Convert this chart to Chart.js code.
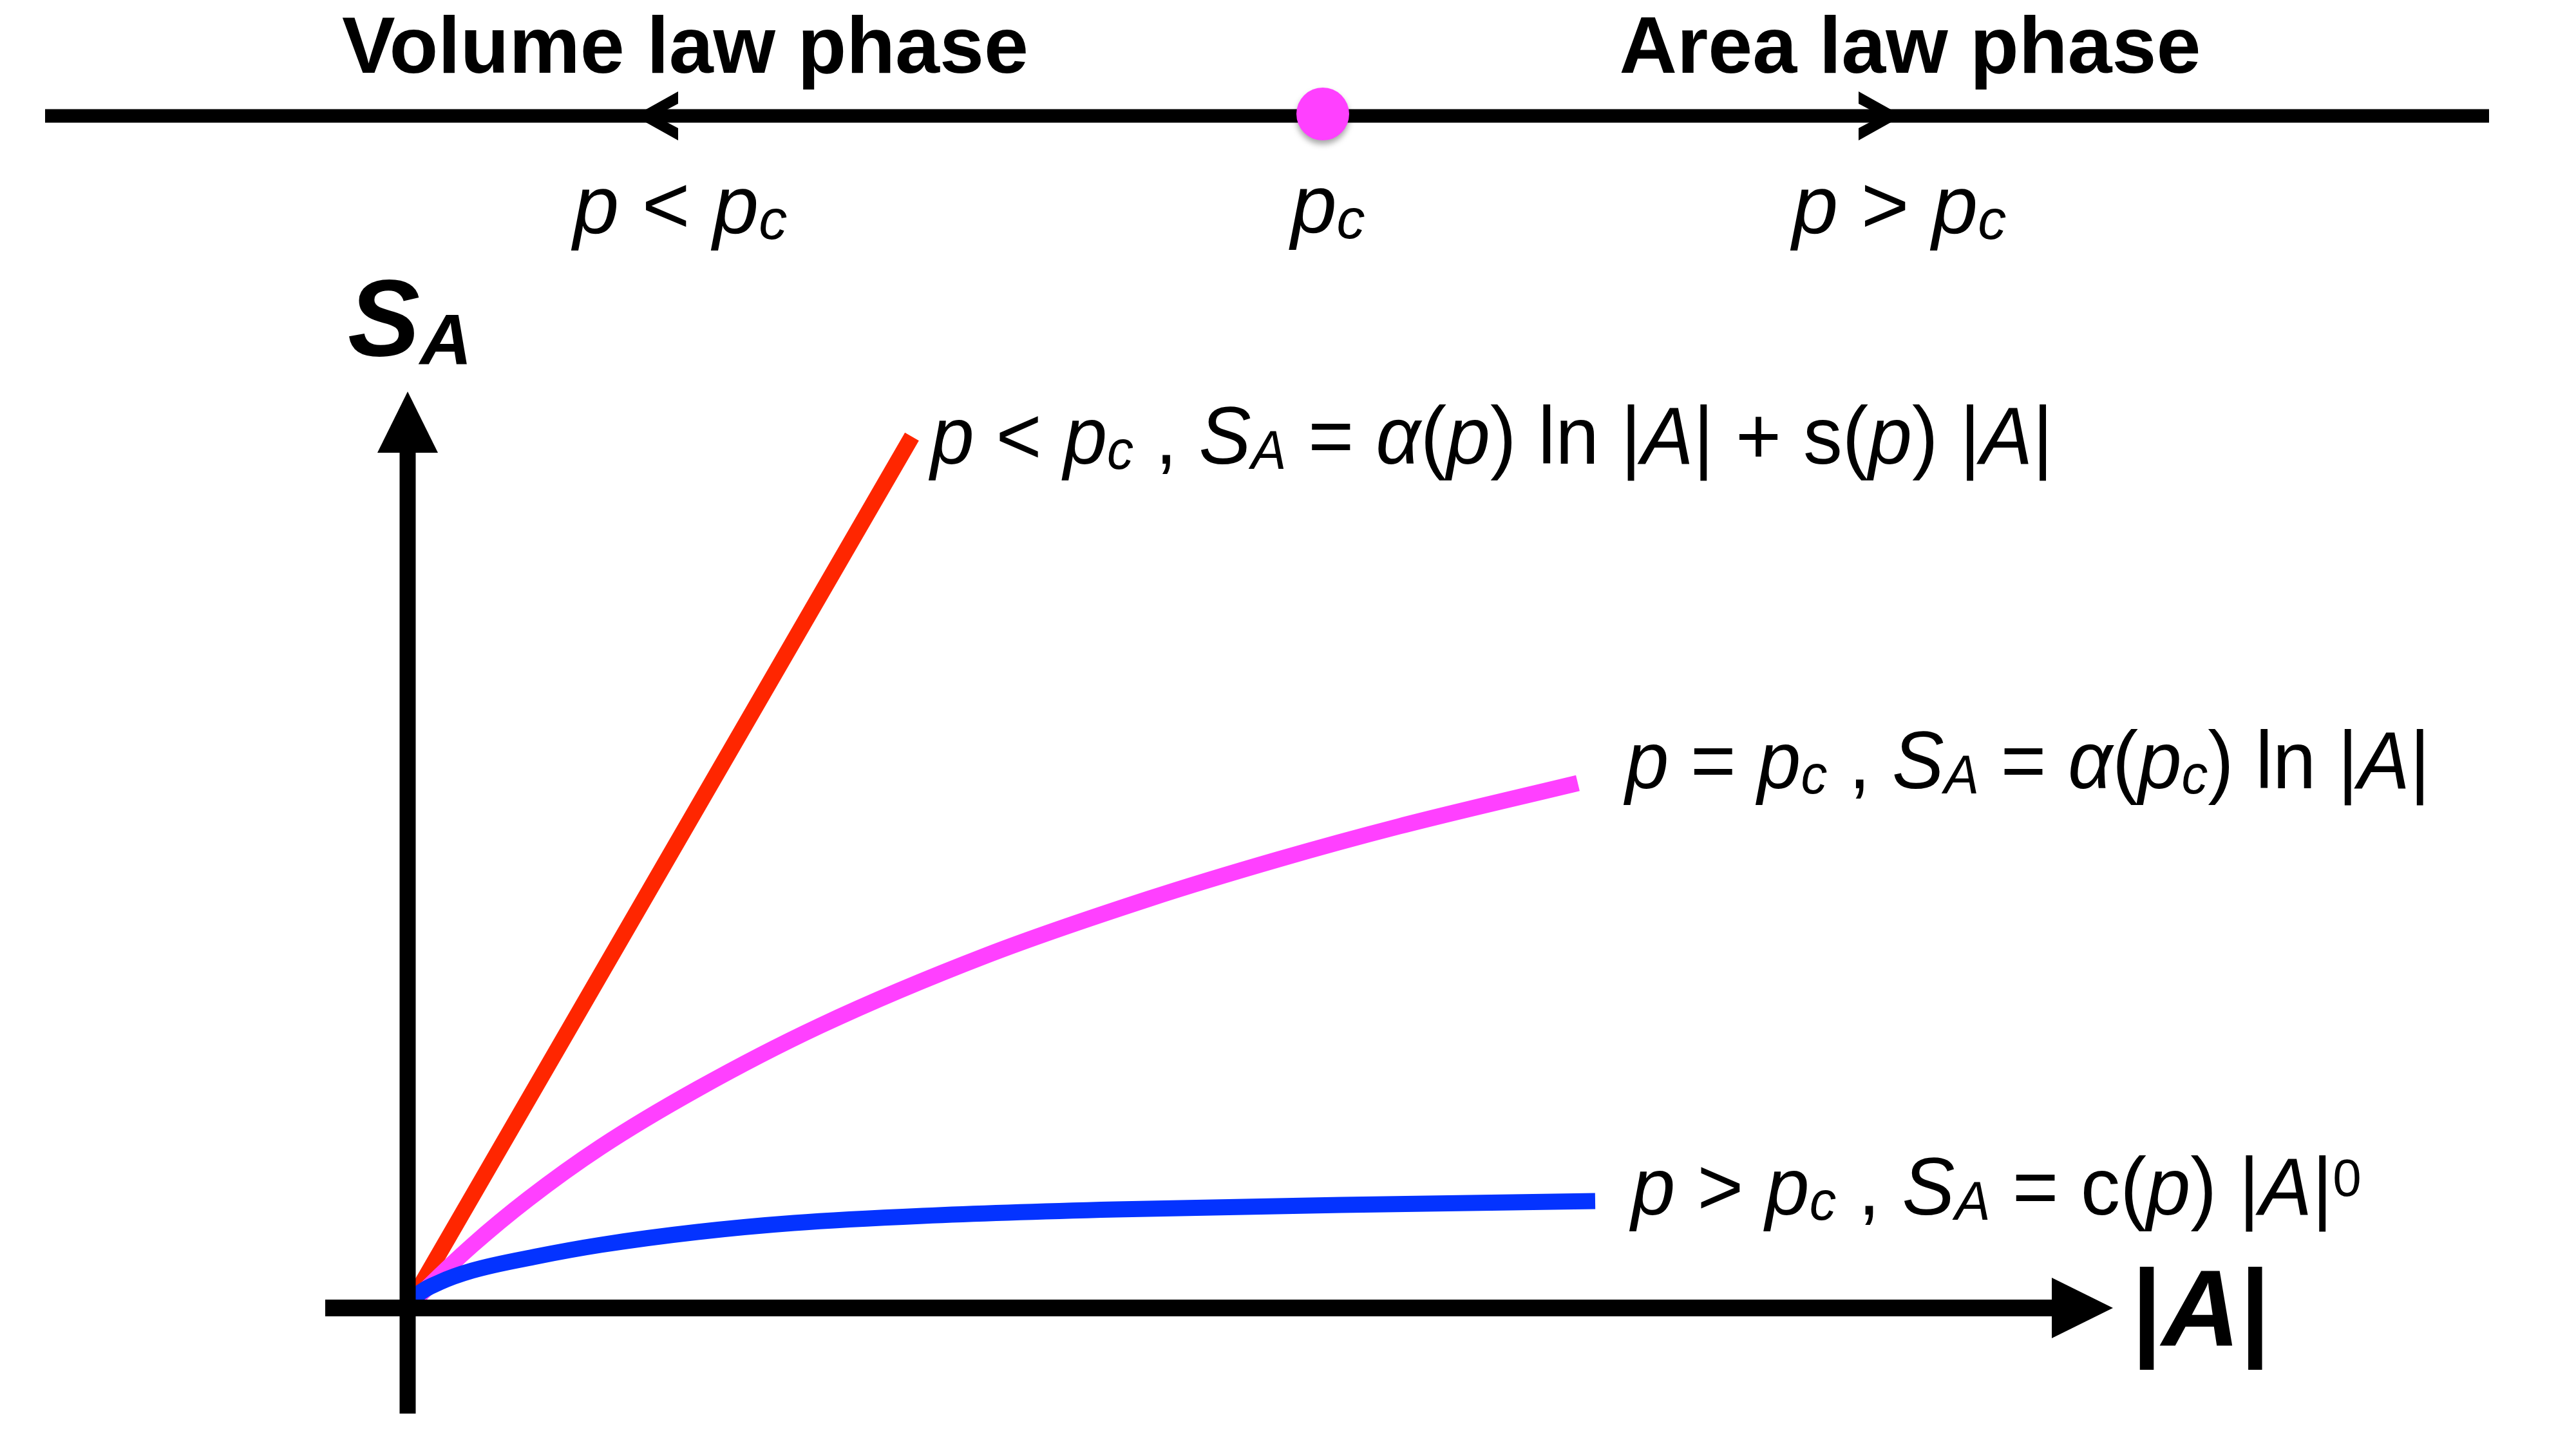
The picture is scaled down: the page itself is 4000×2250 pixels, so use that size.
<!DOCTYPE html>
<html><head><meta charset="utf-8">
<script src="https://cdn.jsdelivr.net/npm/chart.js@4.4.1/dist/chart.umd.min.js"></script>
<style>html,body{margin:0;padding:0;background:#fff;}canvas{display:block;}</style>
</head><body>
<canvas id="c" width="4000" height="2250"></canvas>
<script>
// ---- data (|A| and S_A in arbitrary sketch units) ----
const redA  = [0, 7.83];
const redS  = [0, 13.53];
const pinkA = [0, 0.3, 1, 1.87, 3, 4.5, 6.4, 9, 11.5, 13.5, 15.4, 18.17];
const pinkS = [0, 0.31, 0.97, 1.69, 2.5, 3.4, 4.38, 5.48, 6.35, 6.96, 7.48, 8.15];
const blueA = [0, 0.15, 0.5, 1, 2, 3, 4.5, 6, 8, 11, 14.5, 18.44];
const blueS = [0, 0.2, 0.4, 0.58, 0.8, 0.98, 1.18, 1.32, 1.43, 1.53, 1.6, 1.66];
// phase line (top): p axis with critical point p_c
const phaseX = [-5.63, 32.32];
const phaseLevel = [18.51, 18.51];
const critX = [14.21];
const critY = [18.54];
const phaseTitles = ["Volume law phase", "Area law phase"];

const F = "'Liberation Sans', Arial, Helvetica, sans-serif";
const pts = (xs, ys) => xs.map((x, i) => ({x: x, y: ys[i]}));

function drawRuns(ctx, x, y, list, align, sx) {
  sx = sx || 1;
  let w = 0;
  for (const r of list) { ctx.font = r[1]; w += ctx.measureText(r[0]).width; }
  ctx.save();
  ctx.translate(x, y);
  ctx.scale(sx, 1);
  let cx = align === 'center' ? -w / 2 : 0;
  for (const r of list) {
    ctx.font = r[1];
    ctx.fillText(r[0], cx, (r[2] || 0));
    cx += ctx.measureText(r[0]).width;
  }
  ctx.restore();
}

const decor = {
  id: 'decor',
  beforeDraw(chart) {
    const ctx = chart.ctx;
    ctx.save();
    ctx.fillStyle = '#fff';
    ctx.fillRect(0, 0, chart.width, chart.height);
    ctx.restore();
  },
  beforeDatasetDraw(chart, args) {
    if (args.meta.label === 'crit') {
      const ctx = chart.ctx;
      ctx.save();
      ctx.shadowColor = 'rgba(0,0,0,0.35)';
      ctx.shadowBlur = 10;
      ctx.shadowOffsetY = 6;
    }
  },
  afterDatasetDraw(chart, args) {
    if (args.meta.label === 'crit') chart.ctx.restore();
  },
  afterDatasetsDraw(chart) {
    const ctx = chart.ctx;
    const xs = chart.scales.x, ys = chart.scales.y;
    const X = v => xs.getPixelForValue(v), Y = v => ys.getPixelForValue(v);
    ctx.save();
    ctx.fillStyle = '#000';
    // chevrons on phase line
    const py = Y(phaseLevel[0]);
    function chev(tx, dir) {
      const L = 68, h = 38, t = 19, n = 32;
      ctx.beginPath();
      ctx.moveTo(tx, py);
      ctx.lineTo(tx + dir * L, py - h);
      ctx.lineTo(tx + dir * L, py - h + t);
      ctx.lineTo(tx + dir * n, py);
      ctx.lineTo(tx + dir * L, py + h - t);
      ctx.lineTo(tx + dir * L, py + h);
      ctx.closePath();
      ctx.fill();
    }
    chev(X(3.52), 1);
    chev(X(23.21), -1);
    // main axes
    const ox = X(0), oy = Y(0);
    ctx.fillRect(ox - 12.5, Y(13.3), 25, Y(-1.64) - Y(13.3));
    ctx.fillRect(X(-1.28), oy - 13, X(25.55) - X(-1.28), 26);
    ctx.beginPath();
    ctx.moveTo(ox, Y(14.23)); ctx.lineTo(ox - 47, Y(13.28)); ctx.lineTo(ox + 47, Y(13.28)); ctx.closePath(); ctx.fill();
    ctx.beginPath();
    ctx.moveTo(X(26.48), oy); ctx.lineTo(X(25.53), oy - 47); ctx.lineTo(X(25.53), oy + 47); ctx.closePath(); ctx.fill();

    // texts
    ctx.textBaseline = 'alphabetic';
    ctx.textAlign = 'left';
    drawRuns(ctx, 1064, 113, [[phaseTitles[0], `bold 124px ${F}`]], 'center');
    drawRuns(ctx, 2966, 113, [[phaseTitles[1], `bold 124px ${F}`]], 'center');
    const I8 = `italic 128px ${F}`, R8 = `128px ${F}`, S8 = `italic 88px ${F}`;
    drawRuns(ctx, 1056, 362, [['p', I8], [' < ', R8], ['p', I8], ['c', S8, 9]], 'center');
    drawRuns(ctx, 2062, 361, [['p', I8], ['c', S8, 9]], 'center');
    drawRuns(ctx, 2949, 362, [['p', I8], [' > ', R8], ['p', I8], ['c', S8, 9]], 'center');

    // axis labels
    drawRuns(ctx, 540, 552, [['S', `italic bold 168px ${F}`], ['A', `italic bold 112px ${F}`, 14]], 'left');
    drawRuns(ctx, 3310, 2090, [['|', `bold 168px ${F}`], ['A', `italic bold 168px ${F}`], ['|', `bold 168px ${F}`]], 'left');

    // curve labels
    const I = `italic 126px ${F}`, R = `126px ${F}`, SI = `italic 85px ${F}`, SUP = `82px ${F}`;
    drawRuns(ctx, 1445, 720, [['p', I], [' < ', R], ['p', I], ['c', SI, 8], [' , ', R], ['S', I], ['A', SI, 8], [' = ', R],
      ['α', I], ['(', R], ['p', I], [')', R], [' ln |', R], ['A', I], ['| + ', R], ['s', R], ['(', R], ['p', I], [') |', R], ['A', I], ['|', R]], 'left', 0.966);
    drawRuns(ctx, 2524, 1224, [['p', I], [' = ', R], ['p', I], ['c', SI, 8], [' , ', R], ['S', I], ['A', SI, 8], [' = ', R],
      ['α', I], ['(', R], ['p', I], ['c', SI, 8], [')', R], [' ln |', R], ['A', I], ['|', R]], 'left', 0.96);
    drawRuns(ctx, 2533, 1886, [['p', I], [' > ', R], ['p', I], ['c', SI, 8], [' , ', R], ['S', I], ['A', SI, 8], [' = ', R],
      ['c', R], ['(', R], ['p', I], [')', R], [' |', R], ['A', I], ['|', R], ['0', SUP, -29]], 'left', 0.975);
    ctx.restore();
  }
};

new Chart(document.getElementById('c'), {
  type: 'scatter',
  data: {
    datasets: [
      { label: 'crit', data: pts(critX, critY), pointRadius: 41, pointHoverRadius: 41,
        backgroundColor: '#FF40FF', borderWidth: 0, showLine: false, order: 0 },
      { label: 'p > pc', data: pts(blueA, blueS), showLine: true, borderColor: '#0433FF', borderWidth: 25,
        pointRadius: 0, cubicInterpolationMode: 'monotone', fill: false, order: 1 },
      { label: 'p = pc', data: pts(pinkA, pinkS), showLine: true, borderColor: '#FF40FF', borderWidth: 25,
        pointRadius: 0, cubicInterpolationMode: 'monotone', fill: false, order: 2 },
      { label: 'p < pc', data: pts(redA, redS), showLine: true, borderColor: '#FF2600', borderWidth: 25,
        pointRadius: 0, fill: false, order: 3 },
      { label: 'phase', data: pts(phaseX, phaseLevel), showLine: true, borderColor: '#000', borderWidth: 21,
        pointRadius: 0, fill: false, order: 4 }
    ]
  },
  options: {
    responsive: false,
    animation: false,
    devicePixelRatio: 1,
    layout: { padding: 0, autoPadding: false },
    plugins: { legend: { display: false }, tooltip: { enabled: false }, title: { display: false } },
    events: [],
    scales: {
      x: { type: 'linear', display: false, min: -6.33, max: 33.67 },
      y: { type: 'linear', display: false, min: -2.19, max: 20.31 }
    }
  },
  plugins: [decor]
});
</script>
</body></html>
